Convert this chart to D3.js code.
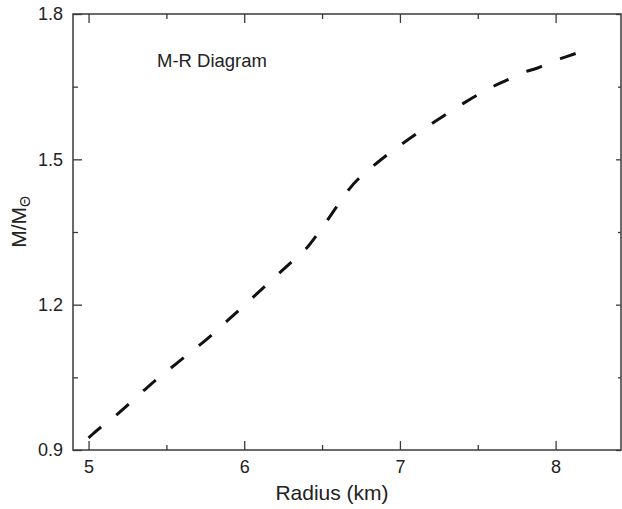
<!DOCTYPE html>
<html>
<head>
<meta charset="utf-8">
<script src="https://cdn.jsdelivr.net/npm/d3@7"></script>
<style>
  body { margin: 0; background: #fff; }
  svg { display: block; font-family: "Liberation Sans", Arial, sans-serif; }
</style>
</head>
<body>
<svg id="chart" width="622" height="509"></svg>
<script>
  // values
  var radius = [5.0, 5.02, 5.2, 5.38, 5.57, 5.76, 5.94, 6.12, 6.31, 6.39, 6.48, 6.54, 6.61, 6.67,
                6.76, 6.85, 6.95, 7.04, 7.14, 7.23, 7.32, 7.41, 7.51, 7.59, 7.69, 7.78, 7.88, 7.97, 8.07, 8.16];
  var mass = [0.925, 0.931, 0.978, 1.030, 1.080, 1.129, 1.181, 1.234, 1.290, 1.313, 1.350, 1.377, 1.410, 1.437,
              1.468, 1.492, 1.517, 1.538, 1.560, 1.579, 1.598, 1.616, 1.635, 1.649, 1.664, 1.678, 1.688, 1.701, 1.712, 1.722];
  var xMajorTicks = [5, 6, 7, 8];
  var xMinorTicks = [5.5, 6.5, 7.5];
  var yMajorTicks = [0.9, 1.2, 1.5, 1.8];
  var yMinorTicks = [1.05, 1.35, 1.65];

  var chart = d3.select("#chart");
  var x0 = 73, x1 = 621;
  var y0 = 450, y1 = 14;

  var x = d3.scaleLinear().domain([4.9, 8.42]).range([x0, x1]);
  var y = d3.scaleLinear().domain([0.9, 1.8]).range([y0, y1]);

  var axisColor = "#3a3a3a";
  var textColor = "#222";
  var fmt = d3.format(".1f");

  var addAxis = function(axis, tx, ty, labels) {
    var g = chart.append("g").attr("transform", "translate(" + tx + "," + ty + ")").call(axis);
    g.selectAll("path, line").attr("stroke", axisColor).attr("stroke-width", 1.3);
    g.selectAll("text").attr("font-size", 18).attr("fill", textColor).attr("font-family", "Liberation Sans, Arial, sans-serif");
    if (!labels) g.selectAll("text").remove();
    g.select(".domain").remove();
    return g;
  };

  // major ticks (inward) on all four sides
  addAxis(d3.axisBottom(x).tickValues(xMajorTicks).tickSize(-9).tickPadding(10).tickFormat(d3.format("d")), 0, y0, true);
  addAxis(d3.axisTop(x).tickValues(xMajorTicks).tickSize(-9), 0, y1, false);
  addAxis(d3.axisLeft(y).tickValues(yMajorTicks).tickSize(-9).tickPadding(10).tickFormat(fmt), x0, 0, true);
  addAxis(d3.axisRight(y).tickValues(yMajorTicks).tickSize(-5), x1, 0, false);

  // minor ticks
  addAxis(d3.axisBottom(x).tickValues(xMinorTicks).tickSize(-5), 0, y0, false);
  addAxis(d3.axisTop(x).tickValues(xMinorTicks).tickSize(-5), 0, y1, false);
  addAxis(d3.axisLeft(y).tickValues(yMinorTicks).tickSize(-5), x0, 0, false);
  addAxis(d3.axisRight(y).tickValues(yMinorTicks).tickSize(-3), x1, 0, false);

  // frame
  chart.append("rect")
    .attr("x", x0).attr("y", y1)
    .attr("width", x1 - x0).attr("height", y0 - y1)
    .attr("fill", "none")
    .attr("stroke", axisColor)
    .attr("stroke-width", 1.5);

  var line = d3.line()
    .x(function(d, i) { return x(radius[i]); })
    .y(function(d, i) { return y(mass[i]); })
    .curve(d3.curveMonotoneX);

  chart.append("path")
    .datum(mass)
    .attr("d", line)
    .attr("fill", "none")
    .attr("stroke", "#111")
    .attr("stroke-width", 3)
    .attr("stroke-dasharray", "16.5,19.5");

  chart.append("text")
    .attr("x", 157).attr("y", 67)
    .attr("font-size", 18.5).attr("fill", textColor)
    .text("M-R Diagram");

  chart.append("text")
    .attr("x", 332).attr("y", 500)
    .attr("text-anchor", "middle")
    .attr("font-size", 21).attr("fill", textColor)
    .text("Radius (km)");

  var yTitle = chart.append("text")
    .attr("transform", "translate(26,222) rotate(-90)")
    .attr("text-anchor", "middle")
    .attr("font-size", 21).attr("fill", textColor);
  yTitle.append("tspan").text("M/M");
  yTitle.append("tspan").attr("font-size", 14).attr("dy", 4).text("Θ");
</script>
</body>
</html>
